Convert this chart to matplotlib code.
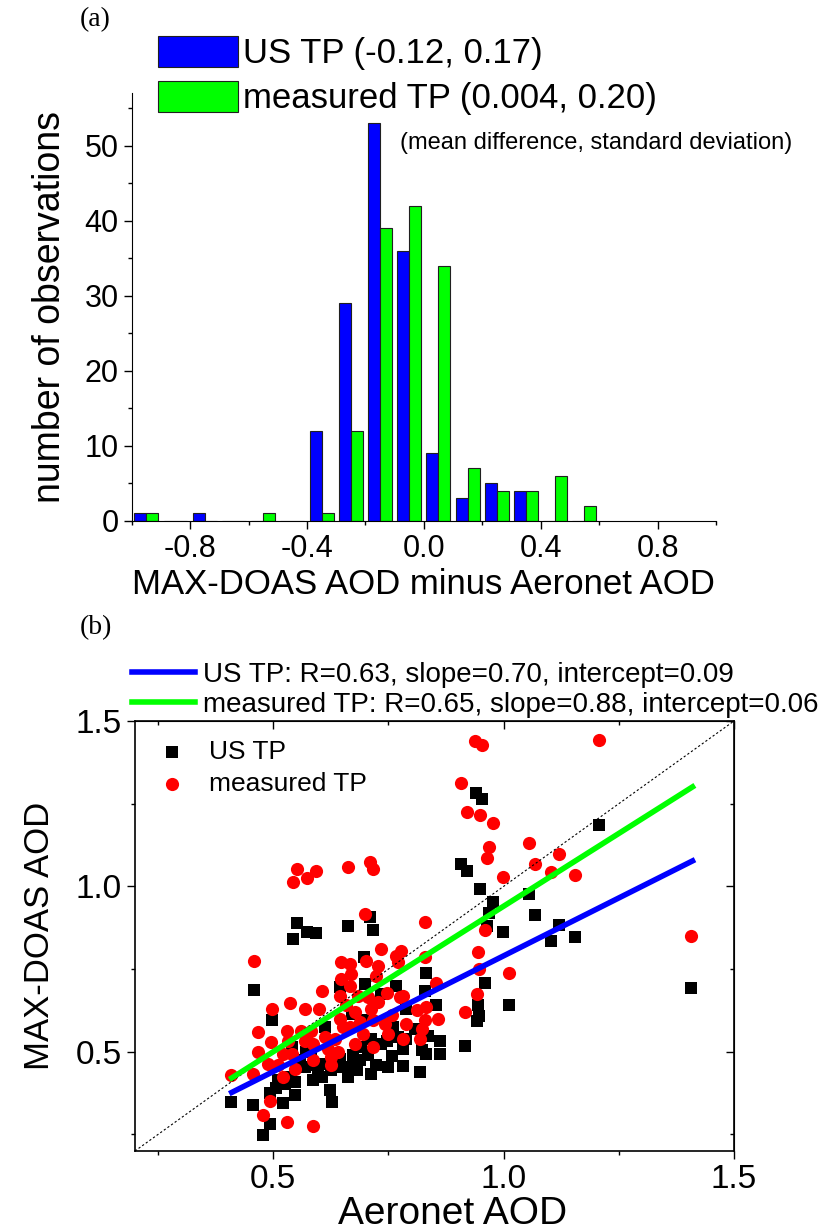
import numpy as np
import matplotlib
matplotlib.use('Agg')
import matplotlib.pyplot as plt
from matplotlib.patches import Patch

plt.rcParams['font.family'] = ['Liberation Sans', 'DejaVu Sans']

# (a) histogram of MAX-DOAS minus Aeronet AOD
bin_centers = np.round(np.arange(-0.95, 0.56, 0.1), 2)
us_counts = [1, 0, 1, 0, 0, 0, 12, 29, 53, 36, 9, 3, 5, 4, 0, 0]
meas_counts = [1, 0, 0, 0, 1, 0, 1, 12, 39, 42, 34, 7, 4, 4, 6, 2]
us_label = 'US TP (-0.12, 0.17)'
meas_label = 'measured TP (0.004, 0.20)'

# (b) scatter, Aeronet AOD vs MAX-DOAS AOD
us_x = [0.543, 0.459, 0.498, 0.697, 0.699, 0.645, 0.735, 0.767, 0.831, 0.829,
        0.853, 0.789, 0.760, 0.807, 0.836, 0.863, 0.861, 0.832, 0.822, 0.782,
        0.782, 0.818, 0.749, 0.757, 0.724, 0.713, 0.735, 0.706, 0.688, 0.666,
        0.652, 0.645, 0.612, 0.605, 0.587, 0.569, 0.572, 0.547, 0.525, 0.511,
        0.547, 0.522, 0.493, 0.457, 0.408, 0.493, 0.477, 0.623, 0.628, 0.673,
        0.681, 0.626, 0.597, 0.536, 0.507, 0.713, 0.691, 0.746, 0.771, 0.789,
        0.612, 0.540, 0.558, 0.663, 0.587, 0.583, 0.670, 0.695,
        0.941, 0.954, 1.206, 0.908, 0.921, 0.948, 0.978, 0.968, 0.963, 0.999,
        1.055, 1.069, 1.120, 1.102, 1.156, 0.960, 0.944, 1.011, 0.946, 0.942,
        0.917, 1.407,
        0.551, 0.574, 0.592, 0.662, 0.711, 0.716]
us_y = [0.841, 0.687, 0.595, 0.785, 0.705, 0.695, 0.675, 0.700, 0.737, 0.683,
        0.640, 0.630, 0.575, 0.570, 0.549, 0.534, 0.494, 0.494, 0.504, 0.509,
        0.456, 0.439, 0.454, 0.486, 0.459, 0.434, 0.524, 0.489, 0.474, 0.454,
        0.454, 0.479, 0.464, 0.424, 0.414, 0.454, 0.499, 0.409, 0.404, 0.414,
        0.369, 0.344, 0.374, 0.339, 0.349, 0.283, 0.248, 0.384, 0.349, 0.489,
        0.444, 0.444, 0.434, 0.424, 0.389, 0.539, 0.514, 0.534, 0.544, 0.539,
        0.574, 0.514, 0.474, 0.424, 0.459, 0.504, 0.615, 0.595,
        1.282, 1.265, 1.187, 1.067, 1.048, 0.993, 0.954, 0.919, 0.881, 0.861,
        0.976, 0.914, 0.883, 0.836, 0.848, 0.708, 0.640, 0.642, 0.607, 0.592,
        0.516, 0.692,
        0.889, 0.861, 0.859, 0.880, 0.906, 0.868]

meas_x = [0.459, 0.408, 0.467, 0.467, 0.498, 0.496, 0.537, 0.569, 0.600, 0.606,
          0.529, 0.532, 0.540, 0.522, 0.489, 0.511, 0.493, 0.477, 0.529, 0.587,
          0.457, 0.547, 0.522, 0.572, 0.587, 0.612, 0.626, 0.641, 0.647, 0.666,
          0.647, 0.668, 0.666, 0.645, 0.659, 0.645, 0.652, 0.677, 0.684, 0.688,
          0.702, 0.728, 0.733, 0.724, 0.713, 0.728, 0.717, 0.746, 0.767, 0.778,
          0.771, 0.775, 0.782, 0.742, 0.749, 0.757, 0.782, 0.789, 0.811, 0.832,
          0.829, 0.853, 0.858, 0.829, 0.822, 0.818, 0.717, 0.677, 0.666, 0.695,
          0.587, 0.569, 0.619, 0.626, 0.561, 0.583, 0.706, 0.634,
          0.939, 0.954, 1.206, 0.908, 0.921, 0.948, 0.978, 0.968, 0.963, 1.055,
          1.120, 1.069, 1.102, 1.156, 0.999, 0.960, 0.944, 0.946, 1.011, 0.942,
          0.917, 1.407,
          0.551, 0.543, 0.574, 0.592, 0.662, 0.710, 0.717, 0.699, 0.830]
meas_y = [0.775, 0.429, 0.559, 0.499, 0.630, 0.529, 0.648, 0.628, 0.628, 0.683,
          0.564, 0.534, 0.494, 0.494, 0.464, 0.459, 0.352, 0.308, 0.288, 0.276,
          0.434, 0.449, 0.424, 0.544, 0.474, 0.544, 0.459, 0.499, 0.772, 0.765,
          0.720, 0.735, 0.700, 0.670, 0.640, 0.600, 0.575, 0.620, 0.670, 0.590,
          0.775, 0.760, 0.810, 0.730, 0.630, 0.650, 0.595, 0.677, 0.790, 0.805,
          0.770, 0.665, 0.670, 0.585, 0.554, 0.610, 0.539, 0.585, 0.625, 0.635,
          0.785, 0.707, 0.600, 0.595, 0.570, 0.539, 0.514, 0.524, 0.575, 0.554,
          0.524, 0.534, 0.509, 0.484, 0.564, 0.564, 0.665, 0.539,
          1.440, 1.426, 1.443, 1.312, 1.224, 1.215, 1.192, 1.119, 1.087, 1.130,
          1.097, 1.069, 1.043, 1.034, 1.028, 0.868, 0.803, 0.750, 0.738, 0.675,
          0.620, 0.851,
          1.054, 1.014, 1.026, 1.046, 1.060, 1.075, 1.054, 0.915, 0.893]

# linear fits reported in the legend
fit_range = [0.41, 1.41]
us_fit = (0.70, 0.09)
meas_fit = (0.88, 0.06)
us_fit_label = 'US TP: R=0.63, slope=0.70, intercept=0.09'
meas_fit_label = 'measured TP: R=0.65, slope=0.88, intercept=0.06'

fig = plt.figure(figsize=(8.25, 12.31), dpi=100)

# ---------------- (a) ----------------
ax1 = fig.add_axes([0.1596, 0.5768, 0.7082, 0.3477])
w = 0.041
ax1.bar(bin_centers - w / 2, us_counts, width=w, color='#0000ff',
        edgecolor='#202020', linewidth=0.8, label=us_label)
ax1.bar(bin_centers + w / 2, meas_counts, width=w, color='#00ff00',
        edgecolor='#202020', linewidth=0.8, label=meas_label)
ax1.set_xlim(-1.0, 1.0)
ax1.set_ylim(0, 57)
ax1.spines['top'].set_visible(False)
ax1.spines['right'].set_visible(False)
ax1.set_xticks([-0.8, -0.4, 0.0, 0.4, 0.8])
ax1.set_xticklabels(['-0.8', '-0.4', '0.0', '0.4', '0.8'])
ax1.set_xticks([-1.0, -0.6, -0.2, 0.2, 0.6, 1.0], minor=True)
ax1.set_yticks([0, 10, 20, 30, 40, 50])
ax1.set_yticks([5, 15, 25, 35, 45, 55], minor=True)
ax1.tick_params(which='major', length=6, width=1, labelsize=22, direction='out')
ax1.tick_params(which='minor', length=3, width=1, direction='out')
ax1.set_xlabel('MAX-DOAS AOD minus Aeronet AOD', fontsize=25, labelpad=3)
ax1.set_ylabel('number of observations', fontsize=27, labelpad=12)

h_us = Patch(facecolor='#0000ff', edgecolor='#202020', linewidth=0.8)
h_meas = Patch(facecolor='#00ff00', edgecolor='#202020', linewidth=0.8)
ax1.legend([h_us, h_meas], [us_label, meas_label], loc='upper left',
           bbox_to_anchor=(158 / 825, 1 - 36 / 1231), bbox_transform=fig.transFigure,
           frameon=False, fontsize=25, handlelength=2.3, handleheight=1.0,
           handletextpad=0.15, borderpad=0, borderaxespad=0, labelspacing=0.3)
fig.text(400 / 825, 1 - 143 / 1231, '(mean difference, standard deviation)',
         fontsize=17, va='center', ha='left')
fig.text(80 / 825, 1 - 20 / 1231, '(a)', fontsize=20, va='center',
         family='Liberation Serif')

# ---------------- (b) ----------------
ax2 = fig.add_axes([0.1636, 0.0650, 0.7261, 0.3493])
ax2.plot([0.2, 1.5], [0.2, 1.5], color='black', lw=0.8, ls=(0, (2, 2)), zorder=3)
sq = ax2.scatter(us_x, us_y, marker='s', s=64, color='black', lw=0, zorder=2,
                 label='US TP')
ci = ax2.scatter(meas_x, meas_y, marker='o', s=90, color='#ff0000', lw=0, zorder=2,
                 label='measured TP')
fx = np.array(fit_range)
l1, = ax2.plot(fx, us_fit[0] * fx + us_fit[1], color='#0000ff', lw=4, zorder=4)
l2, = ax2.plot(fx, meas_fit[0] * fx + meas_fit[1], color='#00ff00', lw=4, zorder=4)
ax2.set_xlim(0.2, 1.5)
ax2.set_ylim(0.2, 1.5)
ax2.set_xticks([0.5, 1.0, 1.5])
ax2.set_xticklabels(['0.5', '1.0', '1.5'])
ax2.set_xticks([0.25, 0.75, 1.25], minor=True)
ax2.set_yticks([0.5, 1.0, 1.5])
ax2.set_yticklabels(['0.5', '1.0', '1.5'])
ax2.set_yticks([0.25, 0.75, 1.25], minor=True)
ax2.tick_params(which='major', length=6, width=1, labelsize=24, direction='out')
ax2.tick_params(which='minor', length=3, width=1, direction='out')
for s in ax2.spines.values():
    s.set_linewidth(1.2)
ax2.set_xlabel('Aeronet AOD', fontsize=28, labelpad=0)
ax2.xaxis.set_label_coords(0.53, -0.105)
ax2.set_ylabel('MAX-DOAS AOD', fontsize=25, labelpad=14)

# inward mirrored ticks on top and right
top = ax2.secondary_xaxis('top')
top.set_xticks([0.5, 1.0, 1.5])
top.set_xticks([0.25, 0.75, 1.25], minor=True)
top.tick_params(which='major', length=6, width=1, direction='in', labeltop=False)
top.tick_params(which='minor', length=3, width=1, direction='in')
right = ax2.secondary_yaxis('right')
right.set_yticks([0.5, 1.0, 1.5])
right.set_yticks([0.25, 0.75, 1.25], minor=True)
right.tick_params(which='major', length=6, width=1, direction='in', labelright=False)
right.tick_params(which='minor', length=3, width=1, direction='in')

leg_pts = ax2.legend([sq, ci], ['US TP', 'measured TP'], loc='upper left',
                     bbox_to_anchor=(0.04, 0.955), frameon=False, fontsize=19,
                     handlelength=1.0, handletextpad=0.9, labelspacing=0.3,
                     borderpad=0, borderaxespad=0)
ax2.add_artist(leg_pts)
ax2.legend([l1, l2], [us_fit_label, meas_fit_label], loc='lower left',
           bbox_to_anchor=(132 / 825, 1 - 718 / 1231), bbox_transform=fig.transFigure,
           frameon=False, fontsize=20, handlelength=2.26, handletextpad=0.3,
           labelspacing=0.15, borderpad=0, borderaxespad=0)
fig.text(80 / 825, 1 - 628 / 1231, '(b)', fontsize=20, va='center',
         family='Liberation Serif')

fig.savefig('out.png', dpi=100)
